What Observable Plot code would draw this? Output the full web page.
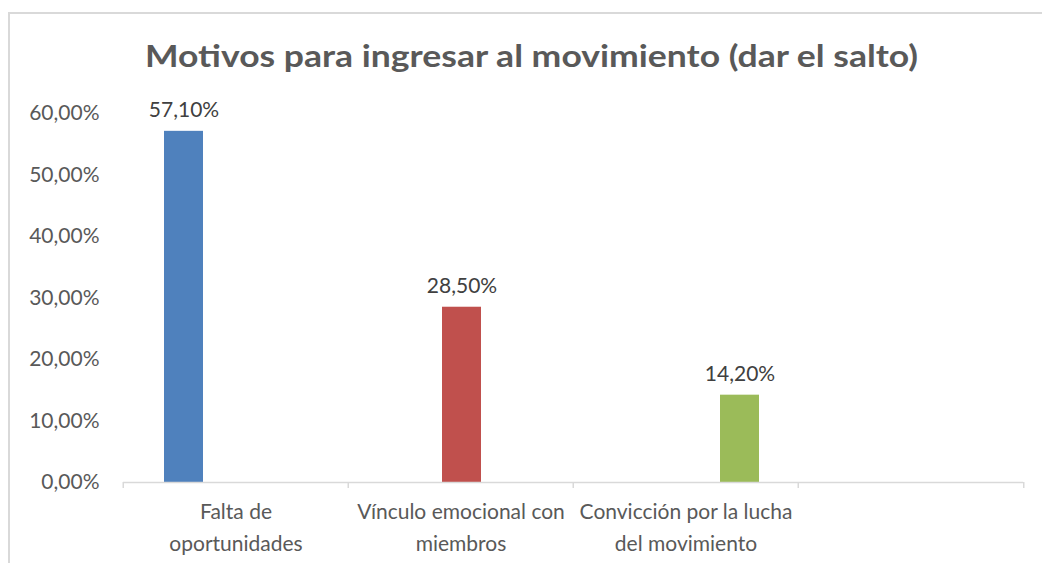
<!DOCTYPE html>
<html>
<head>
<meta charset="utf-8">
<script src="https://cdn.jsdelivr.net/npm/d3@7"></script>
<script src="https://cdn.jsdelivr.net/npm/@observablehq/plot@0.6"></script>
<style>
  html, body { margin: 0; padding: 0; background: #ffffff; }
  #wrap { position: relative; width: 1042px; height: 563px; overflow: hidden; background: #fff; }
  #border { position: absolute; left: 8px; top: 12px; right: -10px; bottom: -10px;
            border-top: 2px solid #d9d9d9; border-left: 2px solid #d9d9d9; }
  #title { position: relative; display: block; }
  #chart { position: relative; }
</style>
</head>
<body>
<div id="wrap">
  <div id="border"></div>
  <svg id="title" width="1042" height="90">
    <text x="145" y="67" textLength="773" lengthAdjust="spacingAndGlyphs"
          font-family="Lato, 'Open Sans', sans-serif" font-weight="700" font-size="31" fill="#595959">Motivos para ingresar al movimiento (dar el salto)</text>
  </svg>
  <div id="chart"></div>
</div>
<script>
const categories = ["Falta de\noportunidades", "Vínculo emocional con\nmiembros", "Convicción por la lucha\ndel movimiento", " "];
const values = [0.571, 0.285, 0.142, null];
const colors = ["#4F81BD", "#C0504D", "#9BBB59"];
const yTicks = [0, 0.1, 0.2, 0.3, 0.4, 0.5, 0.6];

const data = categories.map((cat, i) => ({cat, value: values[i]}));
const fmt = d => (d * 100).toFixed(2).replace(".", ",") + "%";

const W = 1042, H = 473;
const mL = 122, mR = 18, mT = 23, mB = 81;
const step = (W - mL - mR) / categories.length;
const grey = "#595959";
const lineGrey = "#d9d9d9";

const plot = Plot.plot({
  width: W,
  height: H,
  marginLeft: mL,
  marginRight: mR,
  marginTop: mT,
  marginBottom: mB,
  style: {fontFamily: "Lato, 'Open Sans', sans-serif", color: grey, background: "transparent", overflow: "visible"},
  fx: {domain: categories, padding: 0, axis: null},
  x: {type: "band", domain: categories.slice(0, 3), paddingInner: 0.26, paddingOuter: 0.72, align: 0.52, axis: null},
  y: {domain: [0, 0.6], axis: null},
  color: {domain: categories.slice(0, 3), range: colors},
  marks: [
    Plot.axisY({ticks: yTicks, tickFormat: fmt, tickSize: 0, tickPadding: 24, fontSize: 21, fill: grey, label: null}),
    Plot.barY(data, {fx: "cat", x: "cat", y: "value", fill: "cat"}),
    Plot.ruleY([0], {stroke: lineGrey, strokeWidth: 1.5}),
    Plot.axisFx({anchor: "bottom", tickSize: 6, fill: "none", stroke: lineGrey, strokeWidth: 1.5, dx: -step / 2, label: null}),
    Plot.axisFx({anchor: "bottom", ticks: [categories[3]], tickSize: 6, fill: "none", stroke: lineGrey, strokeWidth: 1.5, dx: step / 2, label: null}),
    Plot.axisFx({anchor: "bottom", tickSize: 0, tickPadding: 13, fontSize: 21, lineHeight: 1.55, fill: grey, label: null}),
    Plot.text(data, {fx: "cat", x: "cat", y: "value", text: d => fmt(d.value), lineAnchor: "bottom", dy: -14, fontSize: 21, fill: "#404040"})
  ]
});
document.getElementById("chart").appendChild(plot);
</script>
</body>
</html>
